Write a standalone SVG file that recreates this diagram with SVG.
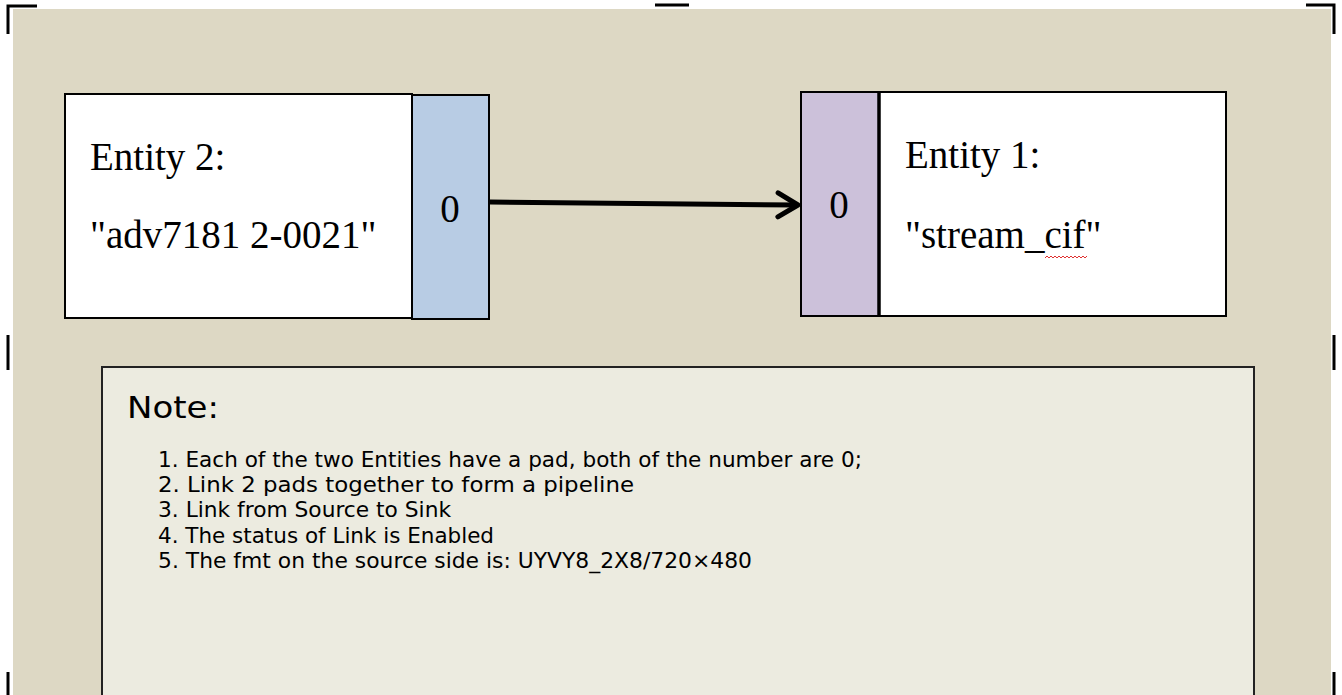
<svg xmlns="http://www.w3.org/2000/svg" width="1342" height="695" viewBox="0 0 1342 695">
<defs>
<style>
.serif{font-family:"Liberation Serif","Times New Roman",serif;fill:#000;font-size:39px}
.sans{font-family:"DejaVu Sans",Verdana,sans-serif;fill:#000}
.box{fill:#fff;stroke:#000;stroke-width:2}
.mark{stroke:#000;stroke-width:3;fill:none}
</style>
<marker id="chev" viewBox="0 0 30 30" refX="26" refY="15" markerWidth="30" markerHeight="30" markerUnits="userSpaceOnUse" orient="auto">
<path d="M6,3 L26,15 L6,27" fill="none" stroke="#000" stroke-width="5" stroke-linecap="round" stroke-linejoin="round"/>
</marker>
</defs>
<rect width="1342" height="695" fill="#fff"/>
<rect x="13" y="9" width="1318" height="686" fill="#ddd8c4"/>
<g id="crop-marks">
<path class="mark" d="M8,34 V6 H37"/>
<path class="mark" d="M655,5 H689"/>
<path class="mark" d="M1306,5 H1334 V34"/>
<path class="mark" d="M8,335 V370"/>
<path class="mark" d="M1334,335 V370"/>
<path class="mark" d="M8,672 V695"/>
<path class="mark" d="M1334,672 V695"/>
</g>
<g id="entity2">
<rect class="box" x="65" y="94" width="347" height="224"/>
<text class="serif" x="90" y="170">Entity 2:</text>
<text class="serif" x="90" y="248">"adv7181 2-0021"</text>
</g>
<g id="pad-source">
<rect x="412" y="95" width="77" height="224" fill="#b8cce4" stroke="#000" stroke-width="2"/>
<text class="serif" x="450" y="222" text-anchor="middle">0</text>
</g>
<g id="pad-sink">
<rect x="801" y="92" width="78" height="224" fill="#ccc1da" stroke="#000" stroke-width="2"/>
<text class="serif" x="839" y="218" text-anchor="middle">0</text>
</g>
<g id="entity1">
<rect class="box" x="879" y="92" width="347" height="224"/>
<line x1="879" y1="92" x2="879" y2="316" stroke="#000" stroke-width="3.5"/>
<text class="serif" x="905" y="168">Entity 1:</text>
<text class="serif" x="905" y="248">"stream_cif"</text>
<path d="M1045,258 l2,-2 l2,2 l2,-2 l2,2 l2,-2 l2,2 l2,-2 l2,2 l2,-2 l2,2 l2,-2 l2,2 l2,-2 l2,2 l2,-2 l2,2 l2,-2 l2,2 l2,-2 l2,2 l2,-2" fill="none" stroke="#e03030" stroke-width="1"/>
</g>
<g id="connectors">
<path d="M490,202 L798,205" fill="none" stroke="#000" stroke-width="5" marker-end="url(#chev)"/>
</g>
<g id="note">
<rect x="102" y="367" width="1152" height="340" fill="#ecebe0" stroke="#222" stroke-width="2"/>
<text class="sans" x="127" y="418" font-size="30" textLength="92" lengthAdjust="spacingAndGlyphs">Note:</text>
<g font-size="20.5">
<text class="sans" x="158" y="467" textLength="704" lengthAdjust="spacingAndGlyphs">1. Each of the two Entities have a pad, both of the number are 0;</text>
<text class="sans" x="158" y="492" textLength="476" lengthAdjust="spacingAndGlyphs">2. Link 2 pads together to form a pipeline</text>
<text class="sans" x="158" y="517" textLength="293" lengthAdjust="spacingAndGlyphs">3. Link from Source to Sink</text>
<text class="sans" x="158" y="543" textLength="336" lengthAdjust="spacingAndGlyphs">4. The status of Link is Enabled</text>
<text class="sans" x="158" y="568" textLength="594" lengthAdjust="spacingAndGlyphs">5. The fmt on the source side is: UYVY8_2X8/720×480</text>
</g>
</g>
</svg>
